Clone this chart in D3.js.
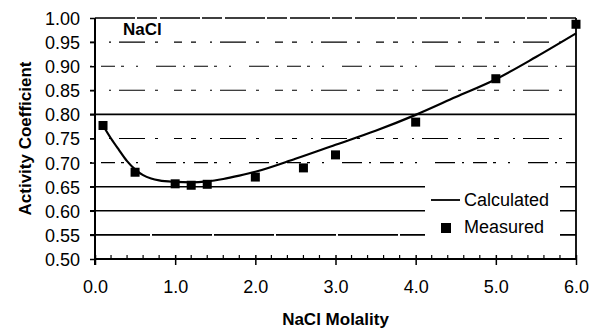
<!DOCTYPE html>
<html>
<head>
<meta charset="utf-8">
<script src="https://cdn.jsdelivr.net/npm/d3@7"></script>
<style>
  body { margin: 0; background: #fff; }
  svg text { font-family: "Liberation Sans", Arial, sans-serif; fill: #000; }
</style>
</head>
<body>
<div id="chart"></div>
<script>
// datos
var calcMolality = [0.1, 0.2, 0.3, 0.4, 0.5, 0.6, 0.7, 0.8, 1.0, 1.2, 1.4, 1.6, 1.8, 2.0, 2.5, 3.0, 3.5, 4.0, 4.5, 5.0, 5.5, 6.0];
var calcCoef     = [0.777, 0.750, 0.726, 0.703, 0.686, 0.674, 0.667, 0.663, 0.660, 0.659, 0.661, 0.666, 0.673, 0.681, 0.708, 0.737, 0.766, 0.799, 0.836, 0.873, 0.919, 0.968];
var measMolality = [0.1, 0.5, 1.0, 1.2, 1.4, 2.0, 2.6, 3.0, 4.0, 5.0, 6.0];
var measCoef     = [0.777, 0.680, 0.656, 0.653, 0.655, 0.670, 0.689, 0.716, 0.784, 0.874, 0.987];
var xTicks = [0, 1, 2, 3, 4, 5, 6];
var yTicks = [0.50, 0.55, 0.60, 0.65, 0.70, 0.75, 0.80, 0.85, 0.90, 0.95, 1.00];
var seriesNames = ["Calculated", "Measured"];

var width = 600, height = 328;
var margin = { top: 18, right: 24, bottom: 69, left: 95 };

var svg = d3.select("#chart").append("svg")
    .attr("width", width)
    .attr("height", height);

var x = d3.scaleLinear().domain([0, 6]).range([margin.left, width - margin.right]);
var y = d3.scaleLinear().domain([0.5, 1.0]).range([height - margin.bottom, margin.top]);

// lineas de la grilla (las del escaneo se ven cortadas)
var solidas = [0.55, 0.60, 0.65, 0.80];
svg.append("g").selectAll("line")
    .data(yTicks.filter(function (d) { return d > 0.5 && d < 1.0; }))
    .enter().append("line")
    .attr("x1", margin.left - 5)
    .attr("x2", x(6))
    .attr("y1", function (d) { return y(d); })
    .attr("y2", function (d) { return y(d); })
    .attr("stroke", "#000")
    .attr("stroke-width", function (d) { return solidas.indexOf(d) >= 0 ? 1.6 : 1.1; })
    .attr("stroke-dasharray", function (d, i) {
        if (solidas.indexOf(d) >= 0) return d === 0.55 ? "60,2" : null;
        return i % 2 ? "2,9,14,6,3,12,2,18,20,7" : "5,14,2,8,26,10,3,16,8,9";
    });

// borde superior y derecho
svg.append("line")
    .attr("x1", x(0)).attr("x2", x(6))
    .attr("y1", y(1)).attr("y2", y(1))
    .attr("stroke", "#000").attr("stroke-width", 1.6)
    .attr("stroke-dasharray", "40,2,20,3");
svg.append("line")
    .attr("x1", x(6)).attr("x2", x(6))
    .attr("y1", y(1)).attr("y2", y(0.5))
    .attr("stroke", "#000").attr("stroke-width", 1.8);

// eje Y
var yAxis = svg.append("g")
    .attr("transform", "translate(" + margin.left + ",0)")
    .call(d3.axisLeft(y).tickValues(yTicks).tickFormat(d3.format(".2f")).tickSize(5).tickPadding(10));
yAxis.select(".domain").remove();
yAxis.selectAll(".tick line").attr("stroke", "#000").attr("stroke-width", 1.5);
yAxis.selectAll("text").style("font-size", "18px").attr("dy", "0.36em");
svg.append("line")
    .attr("x1", x(0)).attr("x2", x(0))
    .attr("y1", y(1)).attr("y2", y(0.5) + 6)
    .attr("stroke", "#000").attr("stroke-width", 2);

// eje X
var xAxis = svg.append("g")
    .attr("transform", "translate(0," + y(0.5) + ")")
    .call(d3.axisBottom(x).tickValues(xTicks).tickFormat(d3.format(".1f")).tickSize(6));
xAxis.select(".domain").remove();
xAxis.selectAll(".tick line").attr("y1", -4).attr("stroke", "#000").attr("stroke-width", 1.5);
xAxis.selectAll("text").style("font-size", "18px").attr("y", 34).attr("dy", "0");
svg.append("line")
    .attr("x1", x(0)).attr("x2", x(6))
    .attr("y1", y(0.5)).attr("y2", y(0.5))
    .attr("stroke", "#000").attr("stroke-width", 2);
svg.append("g").selectAll("line")
    .data(d3.range(1, 30).map(function (i) { return i * 0.2; }).filter(function (d) { return Math.abs(d - Math.round(d)) > 0.01; }))
    .enter().append("line")
    .attr("x1", function (d) { return x(d); })
    .attr("x2", function (d) { return x(d); })
    .attr("y1", y(0.5))
    .attr("y2", y(0.5) - 4)
    .attr("stroke", "#000").attr("stroke-width", 1.2);

// leyenda (fondo blanco tapa la grilla)
svg.append("rect")
    .attr("x", 425).attr("y", 172)
    .attr("width", 135).attr("height", 76)
    .attr("fill", "#fff");

// curva calculada
var calcData = calcMolality.map(function (m, i) { return { m: m, c: calcCoef[i] }; });
var linea = d3.line()
    .x(function (d) { return x(d.m); })
    .y(function (d) { return y(d.c); })
    .curve(d3.curveMonotoneX);
svg.append("path")
    .datum(calcData)
    .attr("d", linea)
    .attr("fill", "none")
    .attr("stroke", "#000")
    .attr("stroke-width", 2.2);

// puntos medidos
var measData = measMolality.map(function (m, i) { return { m: m, c: measCoef[i] }; });
svg.append("g").selectAll("rect")
    .data(measData)
    .enter().append("rect")
    .attr("x", function (d) { return x(d.m) - 4.5; })
    .attr("y", function (d) { return y(d.c) - 4.5; })
    .attr("width", 9)
    .attr("height", 9)
    .attr("fill", "#000");

var leyenda = svg.append("g");
leyenda.append("line")
    .attr("x1", 431).attr("x2", 460)
    .attr("y1", 200).attr("y2", 200)
    .attr("stroke", "#000").attr("stroke-width", 1.8);
leyenda.append("rect")
    .attr("x", 441).attr("y", 223)
    .attr("width", 10).attr("height", 10)
    .attr("fill", "#000");
leyenda.selectAll("text")
    .data(seriesNames)
    .enter().append("text")
    .attr("x", 464)
    .attr("y", function (d, i) { return 206 + i * 27; })
    .style("font-size", "18px")
    .text(function (d) { return d; });

// titulos
svg.append("text")
    .attr("x", 123).attr("y", 35)
    .style("font-size", "17px").style("font-weight", "bold")
    .text("NaCl");

svg.append("text")
    .attr("x", (x(0) + x(6)) / 2).attr("y", 325)
    .attr("text-anchor", "middle")
    .style("font-size", "17px").style("font-weight", "bold")
    .text("NaCl Molality");

svg.append("text")
    .attr("transform", "translate(31," + (y(0.5) + y(1)) / 2 + ") rotate(-90)")
    .attr("text-anchor", "middle")
    .style("font-size", "17px").style("font-weight", "bold")
    .text("Activity Coefficient");
</script>
</body>
</html>
